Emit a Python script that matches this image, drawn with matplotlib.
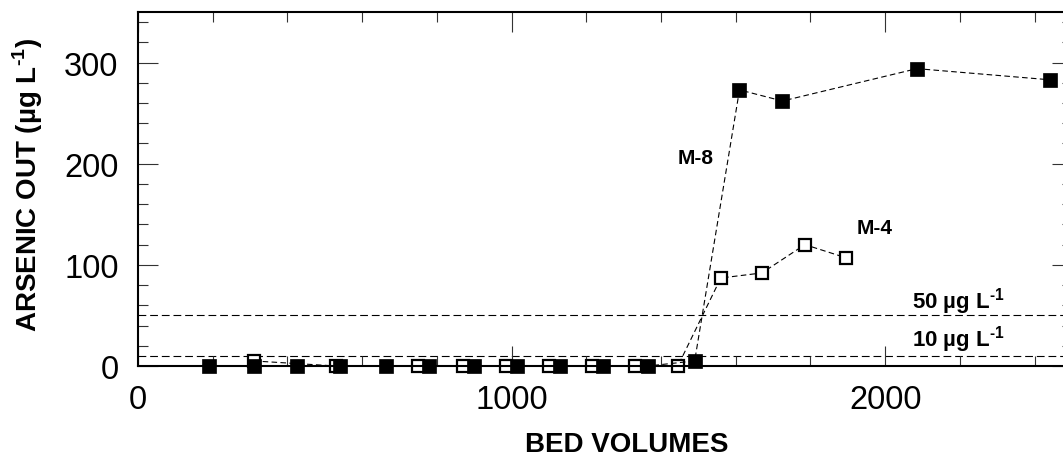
import matplotlib
matplotlib.use('Agg')
import matplotlib.pyplot as plt
from matplotlib.ticker import MultipleLocator

plt.rcParams['font.family'] = 'Liberation Sans'
plt.rcParams['mathtext.fontset'] = 'custom'
plt.rcParams['mathtext.rm'] = 'Liberation Sans'
plt.rcParams['mathtext.bf'] = 'Liberation Sans:bold'

# column M-8 (filled) and M-4 (open): bed volumes vs effluent arsenic
m8_bv = [190, 310, 425, 540, 665, 780, 900, 1015, 1130, 1245, 1365, 1490,
         1610, 1725, 2085, 2440]
m8_as = [0, 0, 0, 0, 0, 0, 0, 0, 0, 0, 0, 5, 273, 262, 294, 283]
m4_bv = [310, 530, 750, 870, 985, 1100, 1215, 1330, 1445, 1560, 1670, 1785,
         1895]
m4_as = [5, 0, 0, 0, 0, 0, 0, 0, 0, 87, 92, 120, 107]
limits = [50, 10]

# superscript with a plain hyphen rather than the math minus sign
per_litre = 'L$^{\\mathbf{\u20101}}$'
limit_labels = ['50 µg ' + per_litre, '10 µg ' + per_litre]

W, H = 1063, 456
fig = plt.figure(figsize=(W / 100, H / 100), dpi=100)
ax = fig.add_axes([138 / W, 89 / H, 934 / W, 354 / H])

for v in limits:
    ax.axhline(v, color='black', lw=0.8, dashes=(7, 3.5), zorder=1)

ax.plot(m4_bv, m4_as, color='black', lw=0.8, dashes=(5, 3),
        marker='s', ms=9, mfc='white', mec='black', mew=1.6,
        clip_on=False, zorder=2)
ax.plot(m8_bv, m8_as, color='black', lw=0.8, dashes=(5, 3),
        marker='s', ms=10, mfc='black', mec='black', mew=0.5,
        clip_on=False, zorder=2.1)

ax.set_xlim(0, 2500)
ax.set_ylim(0, 350)
ax.xaxis.set_major_locator(MultipleLocator(1000))
ax.xaxis.set_minor_locator(MultipleLocator(200))
ax.yaxis.set_major_locator(MultipleLocator(100))
ax.yaxis.set_minor_locator(MultipleLocator(20))
ax.tick_params(which='both', direction='in', top=True, right=True,
               width=0.8, color='#333333')
ax.tick_params(which='major', length=14.4, labelsize=23.5)
ax.tick_params(which='minor', length=7.2)
ax.tick_params(axis='y', pad=14)
ax.tick_params(axis='x', pad=13)
for s in ax.spines.values():
    s.set_linewidth(1.5)

ax.text(1493, 206, 'M-8', ha='center', va='center', fontsize=15,
        fontweight='bold')
ax.text(1971, 137, 'M-4', ha='center', va='center', fontsize=15,
        fontweight='bold')
ax.text(2073, 58, limit_labels[0], ha='left', va='baseline', fontsize=16,
        fontweight='bold')
ax.text(2073, 20, limit_labels[1], ha='left', va='baseline', fontsize=16,
        fontweight='bold')

fig.text(37 / W, 1 - 185 / H, 'ARSENIC OUT (µg ' + per_litre + ')',
         rotation=90, rotation_mode='anchor', ha='center', va='baseline',
         fontsize=20, fontweight='bold')
fig.text(627 / W, 1 - 452 / H, 'BED VOLUMES', ha='center', va='baseline',
         fontsize=20, fontweight='bold')

fig.savefig('out.png', dpi=100)
